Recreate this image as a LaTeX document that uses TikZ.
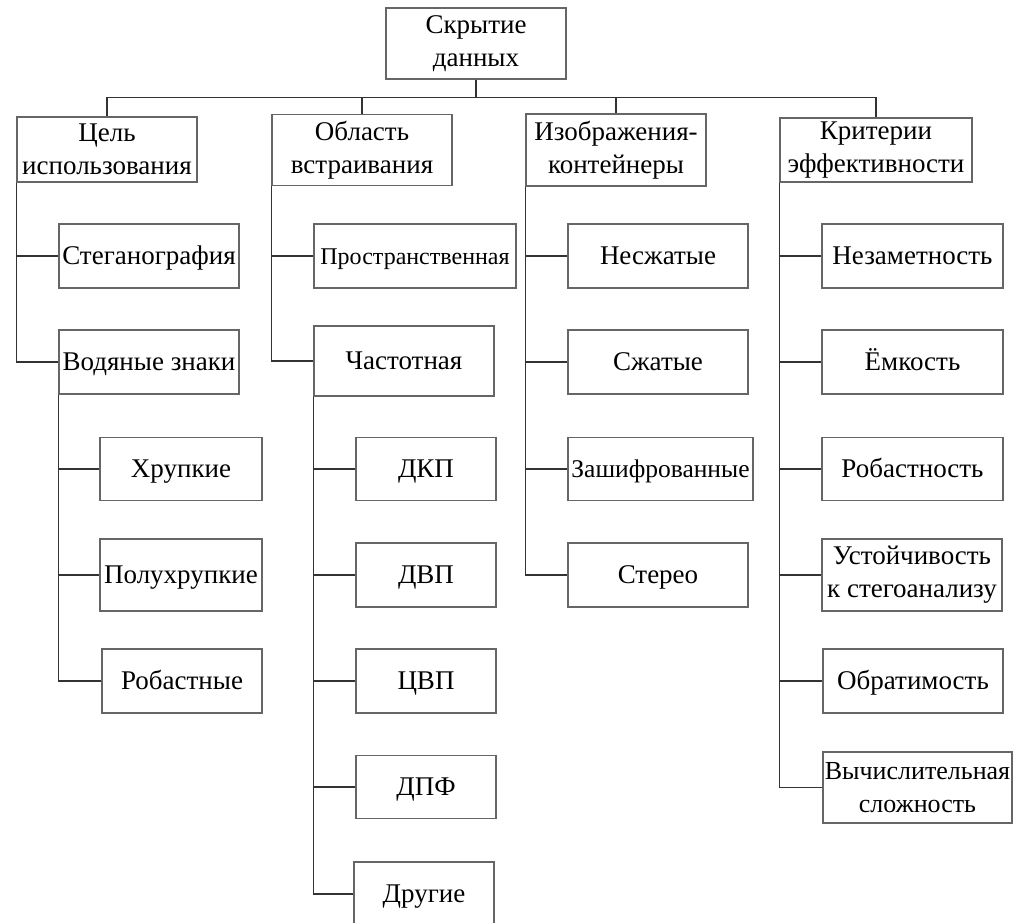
\documentclass[tikz,border=0pt]{standalone}
\usepackage{fontspec}
\setmainfont{Liberation Serif}
\usepackage{tikz}
\tikzset{
    box/.style={draw=black!60,line width=1.2pt,fill=white,inner sep=0pt,align=center,minimum width=180pt,minimum height=64pt,text height=20pt,text depth=3pt,font=\fontsize{27}{33}\selectfont},
    two/.style={text height={},text depth={}},
    link/.style={draw=black!80,line width=1.6pt}
}

\begin{document}
\begin{tikzpicture}[x=1pt,y=-1pt]
  \useasboundingbox (0,0) rectangle (1013,922);

  \node[box,two,minimum height=71pt] (root) at (476, 43.5) {Скрытие\\данных};

  \node[box,two,minimum height=65pt] (cel)  at (107, 149.5) {Цель\\использования};
  \node[box,two,minimum height=71pt] (obl)  at (362, 150)   {Область\\встраивания};
  \node[box,two,minimum height=72pt] (izo)  at (616, 150)   {Изображения-\\контейнеры};
  \node[box,two,minimum width=192pt] (krit) at (876, 150)   {Критерии\\эффективности};

  \node[box] (steg)  at (149, 256) {Стеганография};
  \node[box] (vodzn) at (149, 362) {Водяные знаки};
  \node[box,minimum width=162pt,minimum height=63pt] (hrup)  at (181, 469) {Хрупкие};
  \node[box,minimum width=162pt,minimum height=72pt] (poluh) at (181, 575) {Полухрупкие};
  \node[box,minimum width=160pt] (robn)  at (182, 681) {Робастные};

  \node[box,minimum width=202pt,font=\fontsize{24}{30}\selectfont] (prostr) at (415, 256) {Пространственная};
  \node[box,minimum height=70pt] (chast) at (404, 361) {Частотная};
  \node[box,minimum width=140pt,minimum height=63pt] (dkp)  at (426, 469) {ДКП};
  \node[box,minimum width=140pt] (dvp)  at (426, 575) {ДВП};
  \node[box,minimum width=140pt] (cvp)  at (426, 681) {ЦВП};
  \node[box,minimum width=140pt,minimum height=63pt] (dpf)  at (426, 787) {ДПФ};
  \node[box,minimum width=140pt] (drug) at (424, 894) {Другие};

  \node[box] (nesj)   at (658, 256) {Несжатые};
  \node[box] (sjat)   at (658, 362) {Сжатые};
  \node[box,minimum width=185pt,minimum height=63pt,font=\fontsize{25.5}{33}\selectfont] (zash) at (660.5, 469) {Зашифрованные};
  \node[box] (stereo) at (658, 575) {Стерео};

  \node[box,minimum width=181pt] (nezam) at (912.5, 256) {Незаметность};
  \node[box,minimum width=181pt] (emk)   at (912.5, 362) {Ёмкость};
  \node[box,minimum width=181pt,minimum height=63pt] (robst) at (912.5, 469) {Робастность};
  \node[box,two,minimum height=72pt] (ustoy) at (912, 575) {Устойчивость\\к стегоанализу};
  \node[box] (obrat) at (913, 681) {Обратимость};
  \node[box,two,minimum width=189pt,minimum height=71pt,font=\fontsize{26}{33}\selectfont] (vych) at (917.5, 787.5) {Вычислительная\\сложность};

  % top level bus
  \draw[link] (root.south) -- ++(0,18) coordinate (bus);
  \draw[link] (bus) -| (cel.north);
  \draw[link] (bus) -| (obl.north);
  \draw[link] (bus) -| (izo.north);
  \draw[link] (bus) -| (krit.north);

  % branches
  \draw[link] (cel.south west) |- (steg.west);
  \draw[link] (cel.south west) |- (vodzn.west);
  \draw[link] (vodzn.south west) |- (hrup.west);
  \draw[link] (vodzn.south west) |- (poluh.west);
  \draw[link] (vodzn.south west) |- (robn.west);

  \draw[link] (obl.south west) |- (prostr.west);
  \draw[link] (obl.south west) |- (chast.west);
  \draw[link] (chast.south west) |- (dkp.west);
  \draw[link] (chast.south west) |- (dvp.west);
  \draw[link] (chast.south west) |- (cvp.west);
  \draw[link] (chast.south west) |- (dpf.west);
  \draw[link] (chast.south west) |- (drug.west);

  \draw[link] (izo.south west) |- (nesj.west);
  \draw[link] (izo.south west) |- (sjat.west);
  \draw[link] (izo.south west) |- (zash.west);
  \draw[link] (izo.south west) |- (stereo.west);

  \draw[link] (krit.south west) |- (nezam.west);
  \draw[link] (krit.south west) |- (emk.west);
  \draw[link] (krit.south west) |- (robst.west);
  \draw[link] (krit.south west) |- (ustoy.west);
  \draw[link] (krit.south west) |- (obrat.west);
  \draw[link] (krit.south west) |- (vych.west);
\end{tikzpicture}
\end{document}
